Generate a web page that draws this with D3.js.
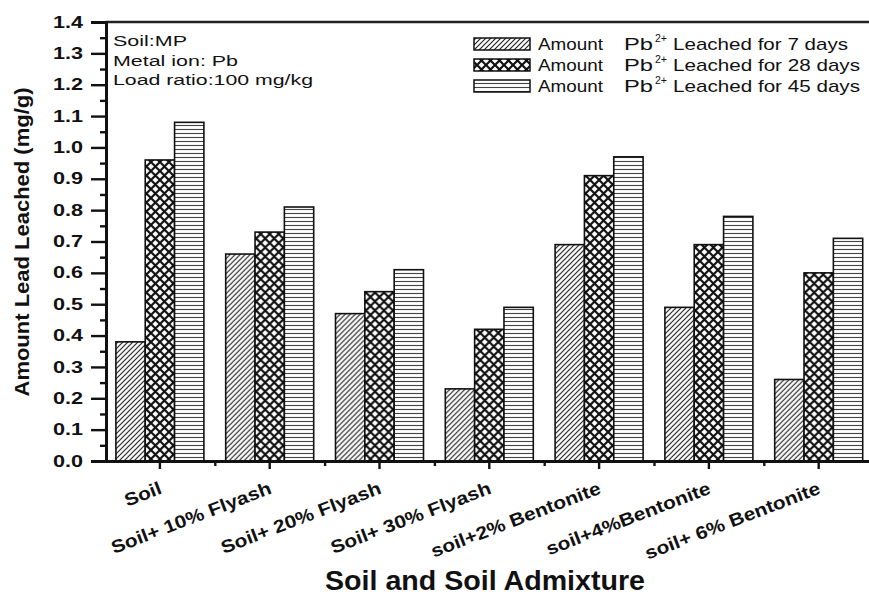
<!DOCTYPE html>
<html>
<head>
<meta charset="utf-8">
<title>Amount Lead Leached</title>
<script src="https://d3js.org/d3.v7.min.js"></script>
<style>
  body { margin: 0; background: #fff; }
  text { font-family: "Liberation Sans", Arial, sans-serif; fill: #111; }
</style>
</head>
<body>
<svg id="chart" width="869" height="595"></svg>
<script>
// data
const categories = ["Soil", "Soil+ 10% Flyash", "Soil+ 20% Flyash", "Soil+ 30% Flyash",
                    "soil+2% Bentonite", "soil+4%Bentonite", "soil+ 6% Bentonite"];
const days7  = [0.38, 0.66, 0.47, 0.23, 0.69, 0.49, 0.26];
const days28 = [0.96, 0.73, 0.54, 0.42, 0.91, 0.69, 0.60];
const days45 = [1.08, 0.81, 0.61, 0.49, 0.97, 0.78, 0.71];
const seriesKeys = ["d7", "d28", "d45"];
const legendLabels = ["Leached for 7 days", "Leached for 28 days", "Leached for 45 days"];
const yMajor = d3.range(0, 15).map(i => i / 10);
const yMinor = d3.range(0, 14).map(i => i / 10 + 0.05);
const notes = ["Soil:MP", "Metal ion: Pb", "Load ratio:100 mg/kg"];

const svg = d3.select("#chart");
const plotLeft = 106, plotTop = 22, plotBottom = 461, step = 109.8;

// scales
const x = d3.scaleBand().domain(categories).range([plotLeft - 1, plotLeft - 1 + step * categories.length]);
const xs = d3.scaleBand().domain(seriesKeys).range([-44, 44]);
const y = d3.scaleLinear().domain([0, 1.4]).range([plotBottom, plotTop]);

// fill patterns
const defs = svg.append("defs");
const p7 = defs.append("pattern").attr("id", "p7").attr("patternUnits", "userSpaceOnUse")
  .attr("width", 5).attr("height", 5);
p7.append("rect").attr("width", 5).attr("height", 5).attr("fill", "#fff");
p7.append("path").attr("d", "M-1,1L1,-1M0,5L5,0M4,6L6,4").attr("stroke", "#222").attr("stroke-width", 1.2);

const p28 = defs.append("pattern").attr("id", "p28").attr("patternUnits", "userSpaceOnUse")
  .attr("width", 9).attr("height", 9);
p28.append("rect").attr("width", 9).attr("height", 9).attr("fill", "#fff");
p28.append("path").attr("d", "M0,0L9,9M9,0L0,9").attr("stroke", "#111").attr("stroke-width", 2.2);

const p45 = defs.append("pattern").attr("id", "p45").attr("patternUnits", "userSpaceOnUse")
  .attr("width", 4).attr("height", 4);
p45.append("rect").attr("width", 4).attr("height", 4).attr("fill", "#fff");
p45.append("path").attr("d", "M0,1.5H4").attr("stroke", "#444").attr("stroke-width", 1.1);

const fills = { d7: "url(#p7)", d28: "url(#p28)", d45: "url(#p45)" };

// bars
const rows = categories.map((c, i) => ({ cat: c, d7: days7[i], d28: days28[i], d45: days45[i] }));
const groups = svg.append("g").selectAll("g").data(rows).join("g")
  .attr("transform", d => `translate(${x(d.cat) + x.bandwidth() / 2},0)`);
groups.selectAll("rect")
  .data(d => seriesKeys.map(k => ({ key: k, value: d[k] })))
  .join("rect")
  .attr("x", d => xs(d.key))
  .attr("width", xs.bandwidth())
  .attr("y", d => y(d.value))
  .attr("height", d => y(0) - y(d.value))
  .attr("fill", d => fills[d.key])
  .attr("stroke", "#111")
  .attr("stroke-width", 1.6);

// top frame line
svg.append("line").attr("x1", plotLeft).attr("x2", 869).attr("y1", plotTop).attr("y2", plotTop)
  .attr("stroke", "#222").attr("stroke-width", 2.5);

// y axis
const yAxis = svg.append("g").attr("transform", `translate(${plotLeft},0)`)
  .call(d3.axisLeft(y).tickValues(yMajor).tickSize(15).tickPadding(8).tickFormat(d3.format(".1f")));
svg.append("g").attr("transform", `translate(${plotLeft},0)`)
  .call(d3.axisLeft(y).tickValues(yMinor).tickSize(6).tickFormat(""))
  .call(g => g.select(".domain").remove());
yAxis.select(".domain").attr("stroke", "#111").attr("stroke-width", 3);
svg.selectAll(".tick line").attr("stroke", "#111").attr("stroke-width", 2.4);
yAxis.selectAll("text")
  .style("font-size", "16px").style("font-weight", "bold")
  .attr("fill", "#111").attr("font-family", null)
  .each(function () {
    const w = this.getComputedTextLength();
    d3.select(this).attr("textLength", w * 1.35).attr("lengthAdjust", "spacingAndGlyphs");
  });

// x axis
const xAxis = svg.append("g").attr("transform", `translate(0,${plotBottom})`)
  .call(d3.axisBottom(x).tickSize(8).tickSizeOuter(0).tickFormat(""));
xAxis.select(".domain").attr("d", `M${plotLeft},0.5H869`).attr("stroke", "#111").attr("stroke-width", 3);
xAxis.selectAll(".tick line").attr("stroke", "#111").attr("stroke-width", 2.4);
svg.append("g").attr("transform", `translate(0,${plotBottom})`)
  .call(d3.axisBottom(d3.scaleIdentity()).tickValues(categories.slice(1).map(c => x(c))).tickSize(5).tickFormat(""))
  .call(g => g.select(".domain").remove())
  .selectAll(".tick line").attr("stroke", "#111").attr("stroke-width", 2.4);

// rotated category labels
svg.append("g").selectAll("text").data(categories).join("text")
  .attr("transform", d => `translate(${x(d) + x.bandwidth() / 2 + 3},493) rotate(-21)`)
  .attr("text-anchor", "end")
  .style("font-size", "18px").style("font-weight", "bold")
  .text(d => d)
  .each(function () {
    const w = this.getComputedTextLength();
    d3.select(this).attr("textLength", w * 1.16).attr("lengthAdjust", "spacingAndGlyphs");
  });

// axis titles
svg.append("text")
  .attr("transform", "translate(29,242) rotate(-90)")
  .attr("text-anchor", "middle")
  .style("font-size", "20px").style("font-weight", "bold")
  .attr("textLength", 309).attr("lengthAdjust", "spacingAndGlyphs")
  .text("Amount Lead Leached (mg/g)");
svg.append("text")
  .attr("x", 485).attr("y", 590)
  .attr("text-anchor", "middle")
  .style("font-size", "27px").style("font-weight", "bold")
  .attr("textLength", 320).attr("lengthAdjust", "spacingAndGlyphs")
  .text("Soil and Soil Admixture");

// notes in the top-left corner
const noteWidths = [74, 125, 200];
svg.append("g").selectAll("text").data(notes).join("text")
  .attr("x", 113).attr("y", (d, i) => 46 + i * 19.5)
  .style("font-size", "14px")
  .attr("textLength", (d, i) => noteWidths[i]).attr("lengthAdjust", "spacingAndGlyphs")
  .text(d => d);

// legend
const legend = svg.append("g").selectAll("g").data(seriesKeys).join("g")
  .attr("transform", (d, i) => `translate(0,${44 + i * 21})`);
legend.append("rect")
  .attr("x", 474).attr("y", -6).attr("width", 56).attr("height", 12)
  .attr("fill", d => fills[d]).attr("stroke", "#111").attr("stroke-width", 1.5);
legend.append("text").attr("x", 538).attr("y", 6)
  .style("font-size", "17px").attr("textLength", 65).attr("lengthAdjust", "spacingAndGlyphs")
  .text("Amount");
legend.append("text").attr("x", 624).attr("y", 6)
  .style("font-size", "17px").attr("textLength", 29).attr("lengthAdjust", "spacingAndGlyphs")
  .text("Pb");
legend.append("text").attr("x", 655).attr("y", -2)
  .style("font-size", "10px").attr("textLength", 12).attr("lengthAdjust", "spacingAndGlyphs")
  .text("2+");
legend.append("text").attr("x", 673).attr("y", 6)
  .style("font-size", "17px")
  .attr("textLength", (d, i) => i === 0 ? 175 : 187).attr("lengthAdjust", "spacingAndGlyphs")
  .text((d, i) => legendLabels[i]);
</script>
</body>
</html>
